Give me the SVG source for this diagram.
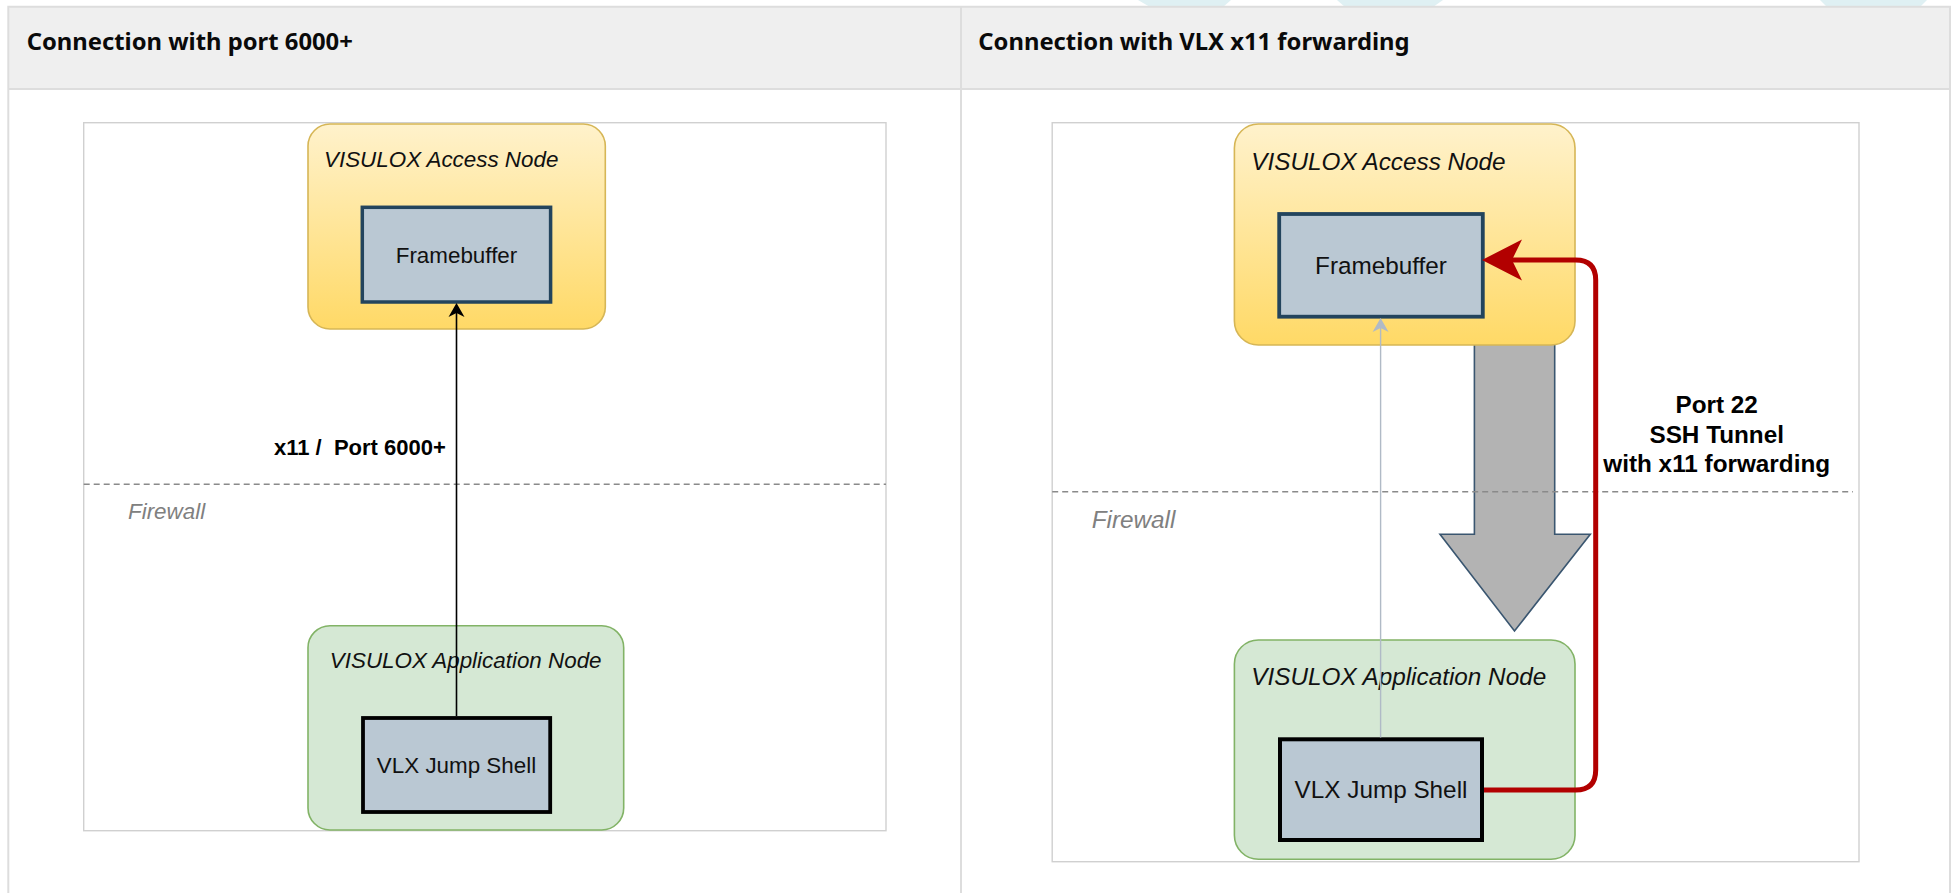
<svg xmlns="http://www.w3.org/2000/svg" width="1952" height="893" viewBox="0 0 1952 893">
<defs>
<linearGradient id="gAccess" x1="0" y1="0" x2="0" y2="1">
<stop offset="0" stop-color="#fff2cc"/>
<stop offset="1" stop-color="#ffd966"/>
</linearGradient>
<marker id="mBlack" markerUnits="userSpaceOnUse" viewBox="-5 -9 16 18" refX="0" refY="0" markerWidth="16" markerHeight="18" orient="auto" overflow="visible">
<path d="M10,0 L-4,-8 L0,0 L-4,8 Z" fill="#000000"/>
</marker>
<marker id="mGray" markerUnits="userSpaceOnUse" viewBox="-5 -9 16 18" refX="0" refY="0" markerWidth="16" markerHeight="18" orient="auto" overflow="visible">
<path d="M10,0 L-4,-8 L0,0 L-4,8 Z" fill="#b0bac6"/>
</marker>
<marker id="mRed" markerUnits="userSpaceOnUse" viewBox="-11 -21 42 42" refX="0" refY="0" markerWidth="42" markerHeight="42" orient="auto" overflow="visible">
<path d="M30,0 L-10,-20.5 L0,0 L-10,20.5 Z" fill="#b20000"/>
</marker>
</defs>
<style>
.hdr{font-family:"Noto Sans","Liberation Sans",sans-serif;font-weight:700;font-size:23.8px;fill:#0a0a0a}
.tbl{fill:none;stroke:#dddddd;stroke-width:2}
.frame{fill:#ffffff;stroke:#d0d0d0;stroke-width:1.4}
.fw{fill:none;stroke:#8a8a8a;stroke-width:1.6;stroke-dasharray:6 4}
.fwt{font-family:"Liberation Sans",Arial,sans-serif;font-style:italic;fill:#808080}
.access{fill:url(#gAccess);stroke:#d6b656;stroke-width:1.6}
.app{fill:#d5e8d4;stroke:#82b366;stroke-width:1.6}
.grp{font-family:"Liberation Sans",Arial,sans-serif;font-style:italic;fill:#111111}
.fb{fill:#bac8d3;stroke:#23445d}
.js{fill:#bac8d3;stroke:#000000}
.lbl{font-family:"Liberation Sans",Arial,sans-serif;fill:#111111;text-anchor:middle}
.bold{font-family:"Liberation Sans",Arial,sans-serif;font-weight:700;fill:#000000}
.wm{fill:#dff0f3}
</style>

<!-- faint background marks -->
<g id="watermark">
<polygon class="wm" points="1138,0 1231,0 1223,7 1150,7"/>
<polygon class="wm" points="1337,0 1443,0 1433,7 1345,7"/>
<polygon class="wm" points="1820,0 1927,0 1920,7 1827,7"/>
</g>

<!-- page table -->
<g id="table">
<rect x="8.3" y="6.7" width="1941.7" height="82.3" fill="#efefef"/>
<path class="tbl" d="M8.3,900 V6.7 H1950 V900 M8.3,89 H1950 M961,6.7 V900"/>
<text class="hdr" x="26.7" y="50">Connection with port 6000+</text>
<text class="hdr" x="978.3" y="50">Connection with VLX x11 forwarding</text>
</g>

<!-- ===== Left diagram ===== -->
<g id="left-frame">
<rect class="frame" x="83.7" y="122.7" width="802.3" height="708"/>
<line class="fw" x1="83.7" y1="484.3" x2="886" y2="484.3"/>
<text class="fwt" x="128" y="519.3" font-size="22.4">Firewall</text>
</g>

<g id="left-access-node">
<rect class="access" x="308" y="124" width="297.3" height="205" rx="22" ry="22"/>
<text class="grp" x="324" y="166.7" font-size="22.4">VISULOX Access Node</text>
</g>

<g id="left-framebuffer">
<rect class="fb" x="362.3" y="207.3" width="188.3" height="94.7" stroke-width="3.5"/>
<text class="lbl" x="456.5" y="262.5" font-size="22.4">Framebuffer</text>
</g>

<g id="left-app-node">
<rect class="app" x="308" y="625.7" width="315.7" height="204.3" rx="22" ry="22"/>
<text class="grp" x="329.8" y="668.3" font-size="22.4">VISULOX Application Node</text>
</g>

<g id="left-jump-shell">
<rect class="js" x="363" y="718" width="187.2" height="94" stroke-width="3.8"/>
<text class="lbl" x="456.5" y="773" font-size="22.4">VLX Jump Shell</text>
</g>

<g id="left-connectors">
<line x1="456.5" y1="716" x2="456.5" y2="313" stroke="#000000" stroke-width="1.6" marker-end="url(#mBlack)"/>
<text class="bold" x="445.8" y="455" font-size="22" text-anchor="end" xml:space="preserve">x11 /  Port 6000+</text>
</g>

<!-- ===== Right diagram ===== -->
<g id="right-frame">
<rect class="frame" x="1052.2" y="122.7" width="806.8" height="739"/>
</g>

<g id="right-tunnel-arrow">
<polygon points="1474.4,330 1554.7,330 1554.7,534.3 1590.3,534.3 1514.5,631 1440,534.3 1474.4,534.3" fill="#b3b3b3" stroke="#3a5670" stroke-width="1.6" stroke-linejoin="miter"/>
</g>

<g id="right-firewall">
<line class="fw" x1="1052.2" y1="491.7" x2="1853" y2="491.7"/>
<text class="fwt" x="1091.7" y="528.3" font-size="24.3">Firewall</text>
</g>

<g id="right-access-node">
<rect class="access" x="1234.4" y="124" width="340.6" height="221" rx="24" ry="24"/>
<text class="grp" x="1251.3" y="170" font-size="24.3">VISULOX Access Node</text>
</g>

<g id="right-framebuffer">
<rect class="fb" x="1279.2" y="214" width="203.6" height="102.7" stroke-width="3.8"/>
<text class="lbl" x="1381" y="273.5" font-size="24.3">Framebuffer</text>
</g>

<g id="right-app-node">
<rect class="app" x="1234.4" y="640" width="340.6" height="219.3" rx="24" ry="24"/>
<text class="grp" x="1251.3" y="685" font-size="24.3">VISULOX Application Node</text>
</g>

<g id="right-jump-shell">
<rect class="js" x="1280" y="739.3" width="202" height="100.7" stroke-width="4"/>
<text class="lbl" x="1381" y="797.5" font-size="24.3">VLX Jump Shell</text>
</g>

<g id="right-connectors">
<line x1="1380.6" y1="737.5" x2="1380.6" y2="328" stroke="#b0bac6" stroke-width="1.4" marker-end="url(#mGray)"/>
<path d="M1484,790 H1575.7 Q1595.7,790 1595.7,770 V280 Q1595.7,260 1575.7,260 H1512" fill="none" stroke="#b20000" stroke-width="5" marker-end="url(#mRed)"/>
<text class="bold" x="1716.7" y="413.3" font-size="24.3" text-anchor="middle">Port 22</text>
<text class="bold" x="1716.7" y="442.7" font-size="24.3" text-anchor="middle">SSH Tunnel</text>
<text class="bold" x="1716.7" y="471.7" font-size="24.3" text-anchor="middle">with x11 forwarding</text>
</g>
</svg>
